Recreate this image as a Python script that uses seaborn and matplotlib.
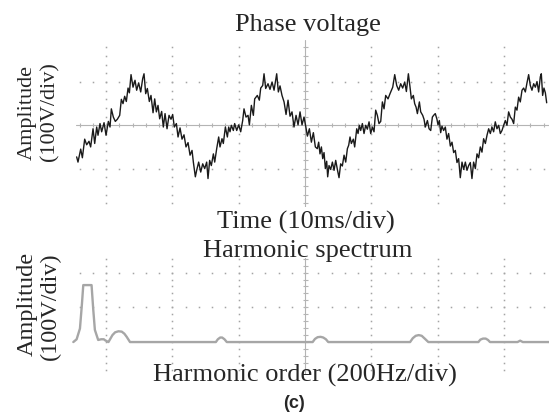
import numpy as np
import matplotlib
matplotlib.use("Agg")
import matplotlib.pyplot as plt
import seaborn as sns

# ---------------- data ----------------
time_ms = [15.56, 15.76, 16.17, 16.42, 16.77, 17.07, 17.42, 17.67, 18.03, 18.28, 18.58, 18.78, 19.08, 19.33,
           19.69, 19.99, 20.34, 20.59, 20.79, 21.09, 21.39, 21.70, 22.05, 22.30, 22.55, 22.80, 23.05, 23.31,
           23.51, 23.76, 24.06, 24.36, 24.61, 24.91, 25.22, 25.52, 25.72, 25.97, 26.22, 26.52, 26.77, 27.08,
           27.33, 27.58, 27.83, 28.08, 28.38, 28.63, 28.89, 29.19, 29.49, 29.79, 30.04, 30.29, 30.60, 30.85,
           31.15, 31.45, 31.75, 32.05, 32.36, 32.66, 32.96, 33.16, 33.46,
           33.66, 33.96, 34.27, 34.57, 34.87, 35.17, 35.37, 35.62, 35.87, 36.18, 36.38, 36.68, 36.98, 37.18,
           37.48, 37.68, 37.99, 38.29, 38.49, 38.69, 38.89, 39.19, 39.39, 39.70, 40.00, 40.30, 40.60, 40.80,
           41.10, 41.41, 41.61, 41.91, 42.21, 42.41, 42.81, 43.11, 43.32, 43.62, 43.82, 44.07, 44.42, 44.72,
           45.03, 45.33, 45.73, 45.98, 46.23, 46.53, 46.84, 47.14, 47.44, 47.74, 48.04, 48.34, 48.65, 48.95,
           49.25, 49.55, 49.85, 50.15, 50.36, 50.66, 50.96, 51.26, 51.56,
           51.86, 52.06, 52.26, 52.47, 52.67, 52.87, 53.07, 53.27, 53.42, 53.62, 53.87, 54.13, 54.38, 54.63,
           54.88, 55.13, 55.38, 55.63, 55.89, 56.14, 56.39, 56.59, 56.79, 56.99, 57.29, 57.49, 57.80, 58.00,
           58.20, 58.40, 58.65, 58.90, 59.15, 59.40, 59.66, 59.91, 60.16, 60.41, 60.66, 60.91, 61.16, 61.42,
           61.67, 61.92, 62.17, 62.52, 62.82, 63.23, 63.53, 63.83, 64.13, 64.43, 64.73, 65.04, 65.29, 65.59,
           65.84, 66.04, 66.34, 66.54, 66.75, 66.95, 67.25, 67.45, 67.75, 67.95, 68.15, 68.46, 68.71, 68.96,
           69.21,
           69.40, 69.65, 69.90, 70.06, 70.26, 70.46, 70.66, 70.91, 71.16, 71.41, 71.66, 71.92, 72.17, 72.42,
           72.67, 72.92, 73.17, 73.42, 73.68, 73.93, 74.18, 74.43, 74.68, 74.93, 75.18, 75.43, 75.69, 75.94,
           76.19, 76.44, 76.69, 76.94, 77.20, 77.45, 77.70, 77.95, 78.20, 78.45, 78.70, 78.95, 79.21, 79.46,
           79.71, 79.96, 80.21, 80.46, 80.71, 80.97, 81.22, 81.47, 81.72, 81.97, 82.22, 82.47, 82.73, 82.98,
           83.23, 83.48, 83.73, 83.98, 84.23, 84.49, 84.74, 84.99, 85.24, 85.49, 85.64, 85.84, 86.04, 86.25,
           86.45]
voltage_v = [-73, -85, -55, -75, -32, -45, -37, -50, -8, -42, -4, -23, 4, -15,
             6, -23, 9, -4, 38, 19, 9, 14, 23, 60, 50, 67, 55, 86,
             75, 117, 88, 104, 81, 98, 77, 108, 119, 73, 85, 55, 69, 29,
             61, 31, 46, 15, 32, -4, 27, -8, 23, 14, 25, -4, 4, -27,
             -6, -32, -22, -50, -40, -69, -58, -85, -119,
             -104, -85, -108, -89, -100, -85, -123, -81, -93, -66, -85, -54, -27, -50,
             -31, -42, -4, -27, -4, -15, 0, -12, 4, -12, 1, -15, 11, 38,
             19, 23, 1, 46, 23, 61, 69, 58, 86, 92, 119, 85, 96, 83,
             100, 81, 119, 77, 91, 69, 54, 25, 58, 21, 31, -4, 23, 1,
             31, 1, 19, -6, -25, -8, -39, -17, -50,
             -54, -39, -66, -50, -77, -63, -100, -83, -119, -93, -102, -85, -104, -81,
             -102, -121, -89, -94, -69, -85, -54, -46, -27, -42, -32, -50, -8, -19,
             0, -12, 4, -19, 0, -9, 8, -19, -4, -15, 35, 23, 4, 9,
             54, 38, 69, 61, 73, 88, 117, 92, 81, 96, 86, 100, 78, 119,
             88, 61, 69, 50, 42, 27, 54, 31, 23, 14, -4, 11, -8, -12,
             19,
             23, 27, 14, 1, 11, -17, -2, -12, -4, -32, -19, -48, -39, -63,
             -58, -86, -77, -121, -85, -102, -85, -104, -93, -86, -123, -85, -100, -66,
             -75, -50, -62, -31, -42, -23, -8, -19, -4, -15, 8, -8, 0, -19,
             -12, 0, 11, 0, 31, 19, 14, 4, 42, 35, 65, 54, 81, 86,
             77, 98, 117, 92, 81, 96, 88, 101, 77, 112, 119, 69, 86, 75,
             52]

freq_hz = [4, 14, 24, 30, 34, 59, 64, 69, 79, 88, 96, 100, 110, 116, 122, 130, 140, 150, 158, 165,
           175, 434, 440, 447, 453, 460, 467, 726, 733, 741, 750, 758, 766, 773, 1020, 1028, 1037, 1046,
           1055, 1064, 1075, 1226, 1232, 1240, 1248, 1255, 1261, 1344, 1352, 1360, 1436]
spectrum_v = [0, 8, 39, 110, 164, 164, 95, 35, 6, 8, 8, 5, 0, 10, 20, 28, 31, 30, 24, 15,
              0, 0, 8, 13, 13, 8, 0, 0, 9, 14, 15, 13, 8, 0, 0, 11, 18, 20,
              18, 10, 0, 0, 7, 10, 10, 6, 0, 0, 4, 0, 0]

title_top = "Phase voltage"
xlabel_top = "Time (10ms/div)"
title_bottom = "Harmonic spectrum"
xlabel_bottom = "Harmonic order (200Hz/div)"
ylabel_lines = ["Amplitude", "(100V/div)"]
panel_label = "(c)"

# ---------------- style ----------------
sns.set_theme(style="white")
plt.rcParams['font.family'] = ['Liberation Serif', 'DejaVu Serif']

W, H = 552, 418
fig = plt.figure(figsize=(W / 100, H / 100), dpi=100)
fig.patch.set_facecolor('white')


def px_axes(l, t, r, b):
    return fig.add_axes([l / W, 1 - b / H, (r - l) / W, (b - t) / H])


def graticule(ax, xc, xdiv, yc, ydiv, rows, cols, hline=True, vline=True):
    x0, x1 = ax.get_xlim()
    y0, y1 = ax.get_ylim()
    pos = ax.get_position()
    dxp = (x1 - x0) / (pos.width * W)
    dyp = (y1 - y0) / (pos.height * H)
    xm, ym = xdiv / 5, ydiv / 5
    kx = np.arange(np.ceil((x0 - xc) / xm), np.floor((x1 - xc) / xm) + 1)
    ky = np.arange(np.ceil((y0 - yc) / ym), np.floor((y1 - yc) / ym) + 1)
    xs = xc + kx * xm
    ys = yc + ky * ym
    dot = dict(ls='none', marker='s', ms=1.1, mew=0, color='#a4a4a4', zorder=1)
    for c in cols:
        if c == 0:
            continue
        ax.plot(np.full_like(ys, xc + c * xdiv), ys, **dot)
    for r in rows:
        if r == 0:
            continue
        ax.plot(xs, np.full_like(xs, yc + r * ydiv), **dot)
    line = dict(color='#b4b4b4', lw=0.8, zorder=1)
    if hline:
        ax.axhline(yc, **line)
        ax.vlines(xs, yc - 2.2 * dyp, yc + 2.2 * dyp, **line)
    if vline:
        ax.axvline(xc, **line)
        ax.hlines(ys, xc - 2.5 * dxp, xc + 2.5 * dxp, **line)


# ---------------- top: phase voltage ----------------
ax1 = px_axes(76, 40, 549, 207)
ax1.set_xlim(15.46, 86.80)
ax1.set_ylim(-188.7, 197.0)
ax1.axis('off')
graticule(ax1, 50, 10, 0, 100, rows=[-1, 1], cols=[-3, -2, -1, 1, 2, 3])
sns.lineplot(x=time_ms, y=voltage_v, ax=ax1, color='#1a1a1a', linewidth=1.0,
             estimator=None, sort=False, zorder=3)

# ---------------- bottom: harmonic spectrum ----------------
ax2 = px_axes(72, 258, 549, 374)
ax2.set_xlim(0, 1439)
ax2.set_ylim(-92, 242)
ax2.axis('off')
graticule(ax2, 703, 200, 0, 100, rows=[1, 2], cols=[-3, -2, -1, 1, 2, 3], hline=False)
sns.lineplot(x=freq_hz + [1439], y=spectrum_v + [0], ax=ax2, color='#a6a6a6', linewidth=1.7,
             estimator=None, sort=False, zorder=3)

# ---------------- texts ----------------
def ftext(x, y, s, **kw):
    fig.text(x / W, 1 - y / H, s, ha='center', va='center', **kw)


ftext(308, 25, title_top, fontsize=19)
ftext(306, 222, xlabel_top, fontsize=19)
ftext(308, 251, title_bottom, fontsize=19)
ftext(305, 375, xlabel_bottom, fontsize=19)
ftext(294, 404, panel_label, fontsize=13, fontweight='bold',
      family=['Liberation Sans', 'DejaVu Sans'])

ftext(27, 112, ylabel_lines[0], fontsize=16, rotation=90)
ftext(50, 112, ylabel_lines[1], fontsize=16, rotation=90)
ftext(27, 304, ylabel_lines[0], fontsize=17.5, rotation=90)
ftext(50, 306, ylabel_lines[1], fontsize=17.5, rotation=90)

fig.savefig('out.png', dpi=100, facecolor='white')
